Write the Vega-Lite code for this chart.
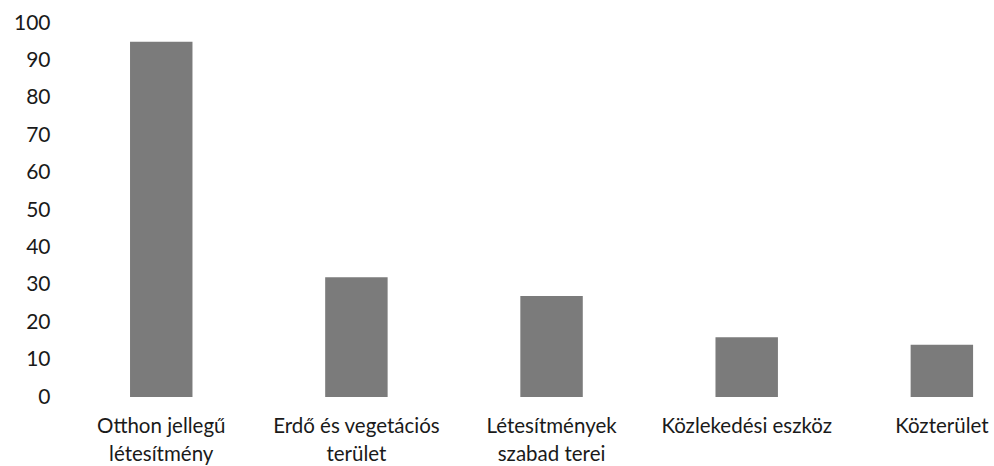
{
  "$schema": "https://vega.github.io/schema/vega-lite/v6.json",
  "width": 934,
  "height": 374,
  "autosize": {"type": "none"},
  "padding": {"left": 60, "top": 23, "right": 0, "bottom": 69},
  "background": "white",
  "data": {
    "values": [
      {"category": "Otthon jellegű|létesítmény", "value": 95},
      {"category": "Erdő és vegetációs|terület", "value": 32},
      {"category": "Létesítmények|szabad terei", "value": 27},
      {"category": "Közlekedési eszköz", "value": 16},
      {"category": "Közterület", "value": 14}
    ]
  },
  "mark": {"type": "bar", "color": "#7b7b7b"},
  "encoding": {
    "x": {
      "field": "category",
      "type": "nominal",
      "sort": null,
      "scale": {"paddingInner": 0.68, "paddingOuter": 0.233, "align": 0.77},
      "axis": {
        "title": null,
        "domain": false,
        "ticks": false,
        "labelAngle": 0,
        "labelFont": "Lato",
        "labelFontSize": 20.5,
        "labelColor": "#1a1a1a",
        "labelPadding": 19,
        "labelLineHeight": 28,
        "labelExpr": "split(datum.label, '|')",
        "labelLimit": 0
      }
    },
    "y": {
      "field": "value",
      "type": "quantitative",
      "scale": {"domain": [0, 100], "nice": false},
      "axis": {
        "title": null,
        "domain": false,
        "ticks": false,
        "grid": false,
        "values": [0, 10, 20, 30, 40, 50, 60, 70, 80, 90, 100],
        "labelFont": "Lato",
        "labelFontSize": 21,
        "labelColor": "#1a1a1a",
        "labelPadding": 10
      }
    }
  },
  "config": {"view": {"stroke": null}}
}
